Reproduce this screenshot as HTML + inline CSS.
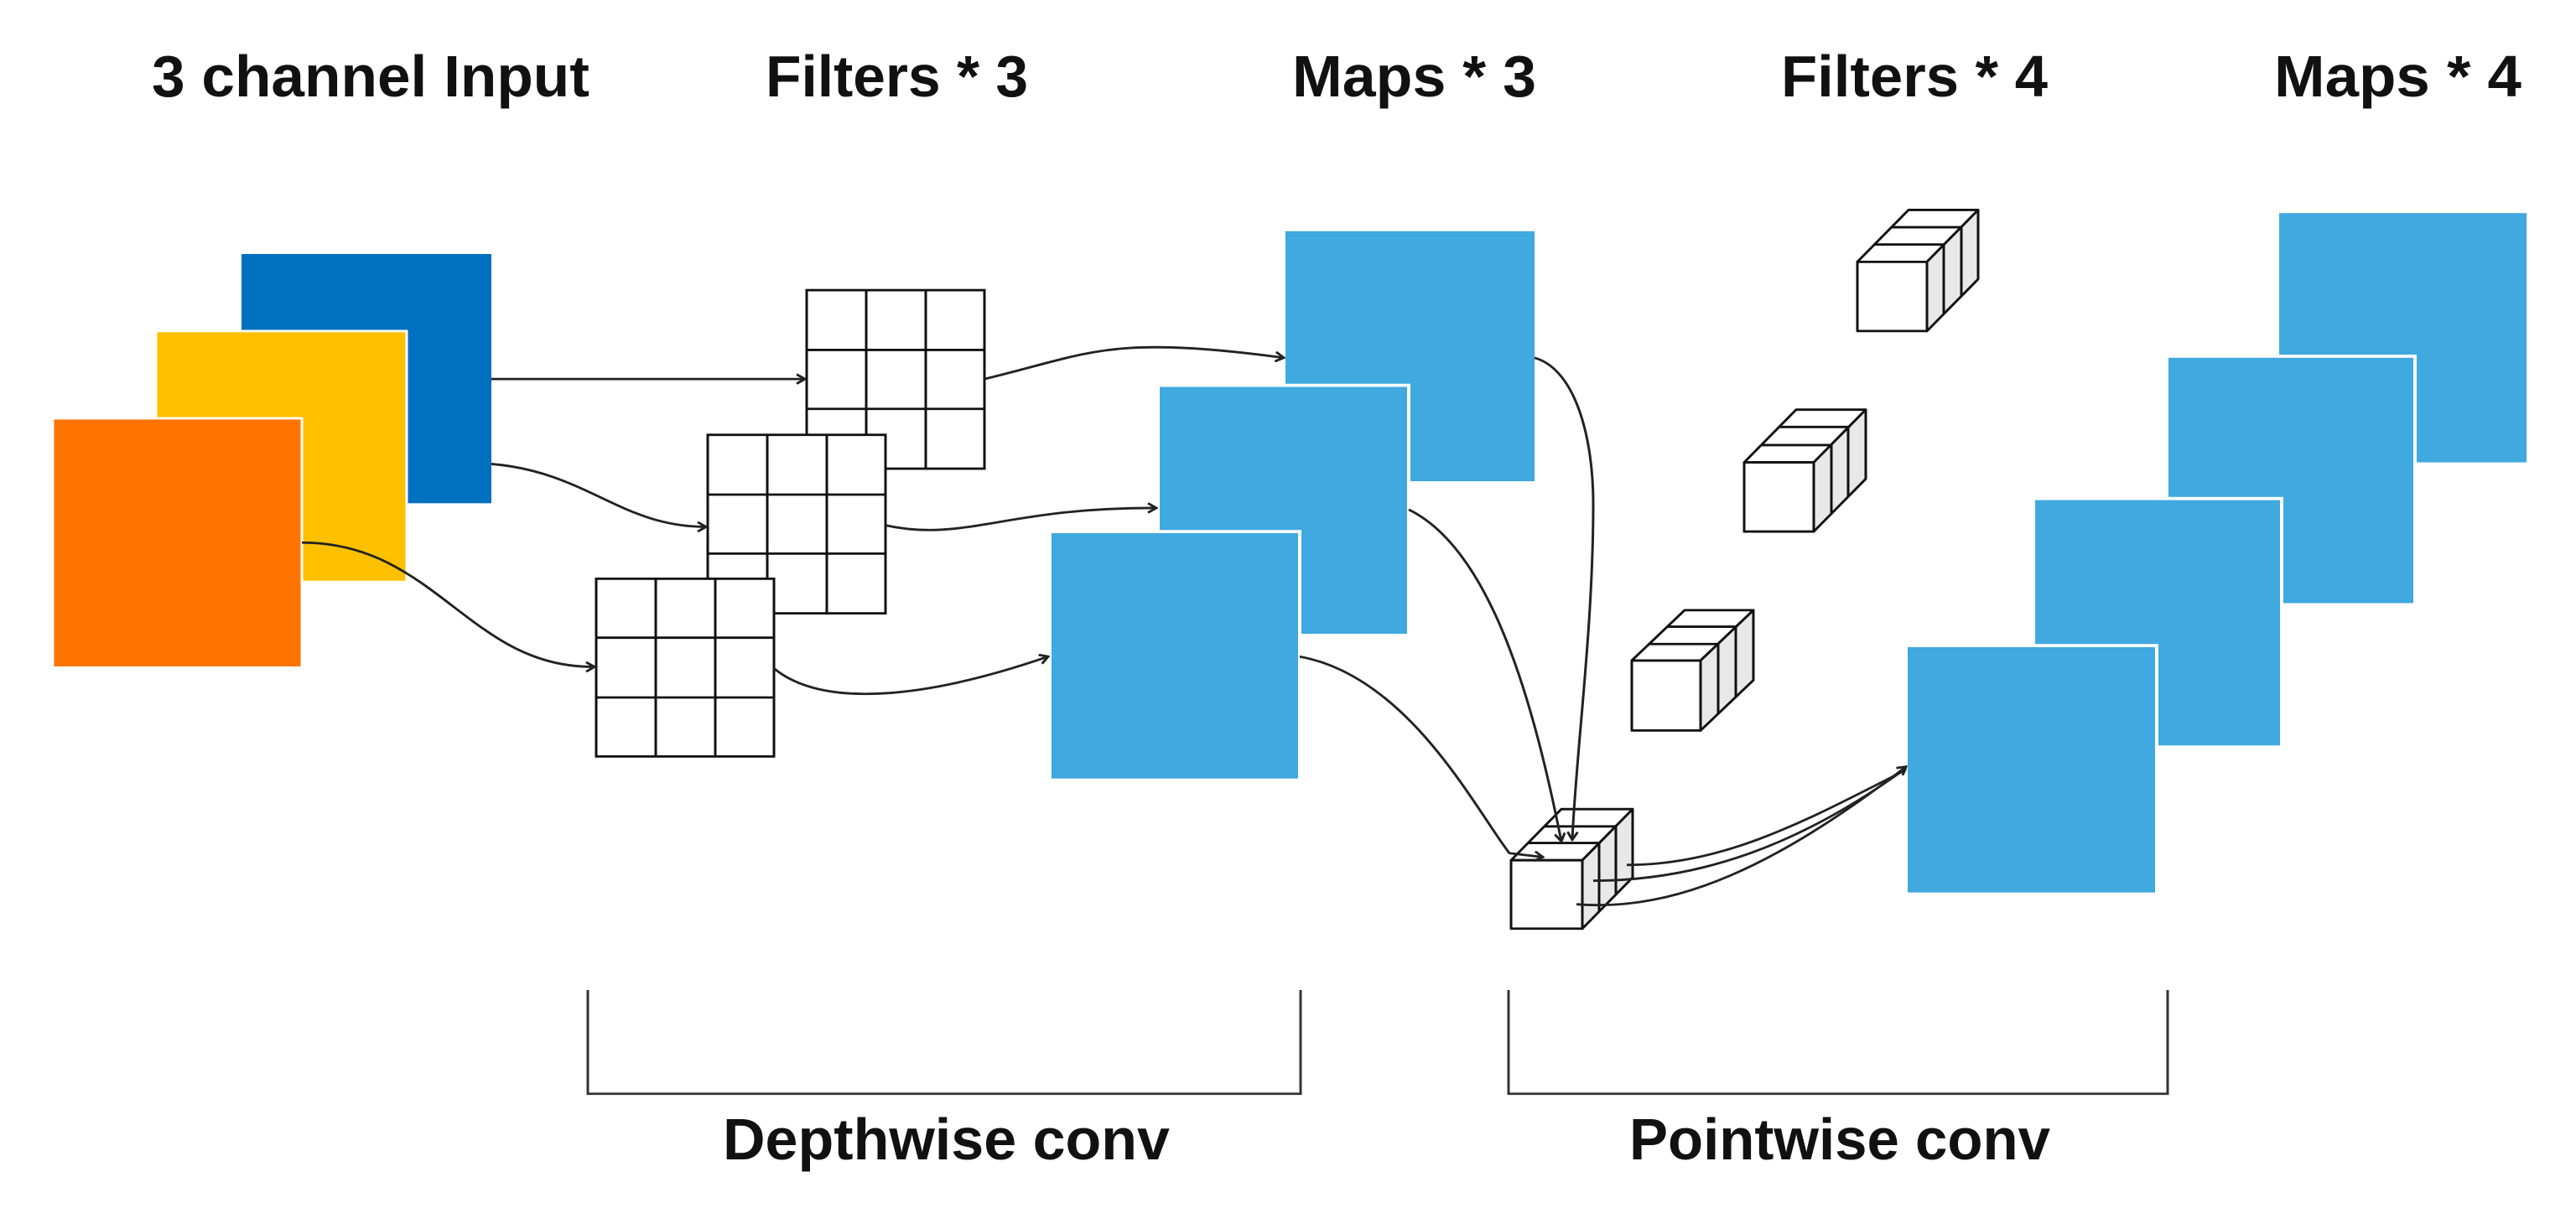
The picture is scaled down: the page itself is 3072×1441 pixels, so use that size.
<!DOCTYPE html>
<html><head><meta charset="utf-8"><style>
html,body{margin:0;padding:0;background:#fff;width:3072px;height:1441px;overflow:hidden}
svg{display:block}
text{font-family:"Liberation Sans",sans-serif;font-weight:bold;fill:#111}
</style></head><body>
<svg width="3072" height="1441" viewBox="0 0 3072 1441" xmlns="http://www.w3.org/2000/svg">
<defs>
<marker id="ah" markerWidth="14" markerHeight="14" refX="12" refY="7" orient="auto" markerUnits="userSpaceOnUse">
<path d="M2,1 L12,7 L2,13" fill="none" stroke="#222" stroke-width="3"/>
</marker>
</defs>
<!-- titles -->
<text x="181" y="115" font-size="70" textLength="522" lengthAdjust="spacingAndGlyphs">3 channel Input</text>
<text x="913" y="115" font-size="70" textLength="313" lengthAdjust="spacingAndGlyphs">Filters * 3</text>
<text x="1541" y="115" font-size="70" textLength="291" lengthAdjust="spacingAndGlyphs">Maps * 3</text>
<text x="2124" y="115" font-size="70" textLength="318" lengthAdjust="spacingAndGlyphs">Filters * 4</text>
<text x="2712" y="115" font-size="70" textLength="295" lengthAdjust="spacingAndGlyphs">Maps * 4</text>

<g transform="scale(1,0.938)">
<!-- input -->
<rect x="288" y="323" width="298" height="317" fill="#0070C0"/>
<rect x="186" y="421" width="299" height="319" fill="#FFC000" stroke="#fff" stroke-width="3"/>
<rect x="63" y="532" width="297" height="317" fill="#FF7300" stroke="#fff" stroke-width="3"/>

<!-- grids -->
<g fill="#fff" stroke="#111" stroke-width="3">
<rect x="962" y="369" width="212" height="227"/>
<path d="M1033,369V596M1104,369V596M962,445H1174M962,520H1174" fill="none"/>
<rect x="844" y="553" width="212" height="227"/>
<path d="M915,553V780M986,553V780M844,629H1056M844,704H1056" fill="none"/>
<rect x="711" y="736" width="212" height="226"/>
<path d="M782,736V962M853,736V962M711,811H923M711,887H923" fill="none"/>
</g>

<!-- maps*3 -->
<rect x="1533" y="294" width="297" height="318" fill="#3FA9E0"/>
<rect x="1381" y="490" width="299" height="318" fill="#3FA9E0" stroke="#fff" stroke-width="4"/>
<rect x="1252" y="676" width="298" height="316" fill="#3FA9E0" stroke="#fff" stroke-width="4"/>

<!-- maps*4 -->
<rect x="2718" y="271" width="295" height="317" fill="#3FA9E0"/>
<rect x="2584" y="453" width="296" height="316" fill="#3FA9E0" stroke="#fff" stroke-width="4"/>
<rect x="2425" y="634" width="296" height="316" fill="#3FA9E0" stroke="#fff" stroke-width="4"/>
<rect x="2273" y="821" width="299" height="316" fill="#3FA9E0" stroke="#fff" stroke-width="4"/>

<!-- cubes -->
<g stroke="#111" stroke-width="3" stroke-linejoin="round">
<polygon points="2215,333 2276,267 2359,267 2298,333" fill="#fff"/>
<polygon points="2298,333 2359,267 2359,355 2298,421" fill="#e8e8e8"/>
<rect x="2215" y="333" width="83" height="88" fill="#fff"/>
<path d="M2235,311H2318V399M2256,289H2339V377" fill="none"/>

<polygon points="2080,588 2142,521 2225,521 2163,588" fill="#fff"/>
<polygon points="2163,588 2225,521 2225,609 2163,676" fill="#e8e8e8"/>
<rect x="2080" y="588" width="83" height="88" fill="#fff"/>
<path d="M2101,566H2184V654M2121,543H2204V631" fill="none"/>

<polygon points="1946,840 2009,776 2091,776 2028,840" fill="#fff"/>
<polygon points="2028,840 2091,776 2091,865 2028,929" fill="#e8e8e8"/>
<rect x="1946" y="840" width="82" height="89" fill="#fff"/>
<path d="M1967,819H2049V908M1988,797H2070V886" fill="none"/>

<polygon points="1802,1094 1862,1029 1947,1029 1887,1094" fill="#fff"/>
<polygon points="1887,1094 1947,1029 1947,1116 1887,1181" fill="#e8e8e8"/>
<rect x="1802" y="1094" width="85" height="87" fill="#fff"/>
<path d="M1822,1072H1907V1159M1842,1051H1927V1138" fill="none"/>
</g>

<!-- connectors -->
<g fill="none" stroke="#222" stroke-width="3">
<path d="M586,482 H960" marker-end="url(#ah)"/>
<path d="M586,590 C700,600 740,670 842,670" marker-end="url(#ah)"/>
<path d="M360,690 C520,690 560,850 709,848" marker-end="url(#ah)"/>
<path d="M1174,482 C1300,450 1320,425 1531,455" marker-end="url(#ah)"/>
<path d="M1056,668 C1150,690 1200,645 1379,646" marker-end="url(#ah)"/>
<path d="M923,850 C980,900 1100,890 1250,835" marker-end="url(#ah)"/>
<path d="M1830,455 C1880,470 1900,560 1900,640 C1900,800 1880,950 1875,1068" marker-end="url(#ah)"/>
<path d="M1680,648 C1780,700 1830,900 1862,1070" marker-end="url(#ah)"/>
<path d="M1550,835 C1680,860 1760,1030 1800,1085 L1840,1090" marker-end="url(#ah)"/>
<path d="M1880,1150 C2000,1160 2120,1100 2273,975" marker-end="url(#ah)"/>
<path d="M1900,1120 C2020,1120 2140,1080 2273,977" />
<path d="M1940,1100 C2060,1100 2160,1040 2273,979" />
</g>

<!-- brackets -->
<g fill="none" stroke="#333" stroke-width="3">
<path d="M701,1259 V1391 H1551 V1259"/>
<path d="M1799,1259 V1391 H2585 V1259"/>
</g>
</g>
<text x="862" y="1383" font-size="70" textLength="533" lengthAdjust="spacingAndGlyphs">Depthwise conv</text>
<text x="1943" y="1383" font-size="70" textLength="502" lengthAdjust="spacingAndGlyphs">Pointwise conv</text>
</svg>
</body></html>
